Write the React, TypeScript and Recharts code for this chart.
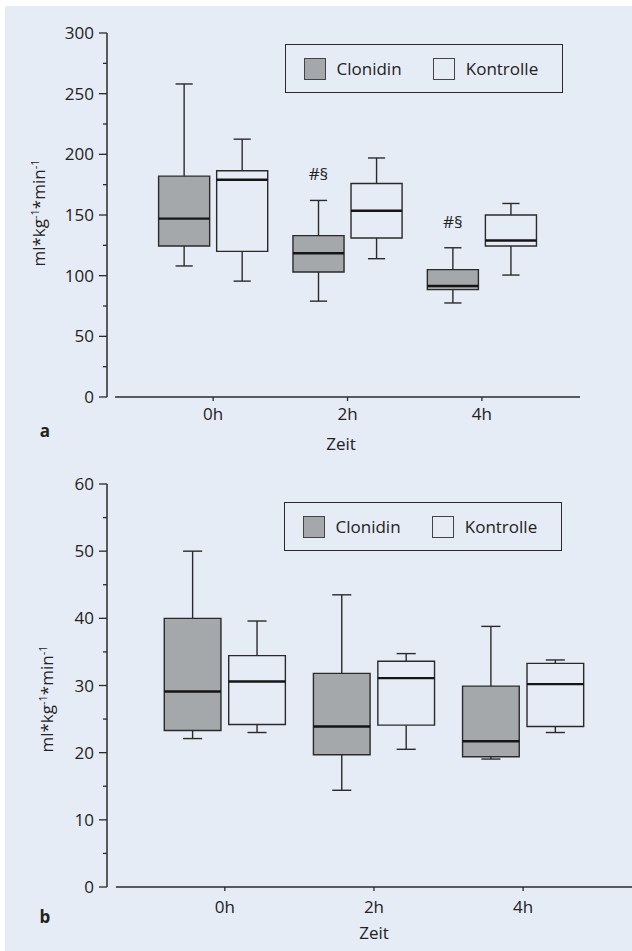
import React from "react";
import {
  ComposedChart,
  XAxis,
  YAxis,
  Scatter,
  ReferenceArea,
  ReferenceLine,
  ReferenceDot,
  Legend,
} from "recharts";

// time points and series
const TIMES = ["0h", "2h", "4h"];
const SERIES = ["Clonidin", "Kontrolle"];

// each entry: [min, q1, median, q3, max]
const A_CLONIDIN = [
  [108, 124.5, 147, 182, 258],
  [79, 103, 118.5, 133, 162],
  [77.5, 88.5, 91.5, 105, 123],
];
const A_KONTROLLE = [
  [95.5, 120, 179, 186.5, 212.5],
  [114, 131, 153.5, 176, 197],
  [100.5, 124.5, 129, 150, 159.5],
];
const A_SIGNIF = ["", "#§", "#§"];

const B_CLONIDIN = [
  [22.1, 23.3, 29.1, 40, 50],
  [14.4, 19.7, 23.9, 31.8, 43.5],
  [19.05, 19.4, 21.7, 29.9, 38.8],
];
const B_KONTROLLE = [
  [23, 24.2, 30.6, 34.45, 39.6],
  [20.5, 24.1, 31.1, 33.6, 34.75],
  [23, 23.9, 30.2, 33.3, 33.8],
];

const A_TICKS = [0, 25, 50, 75, 100, 125, 150, 175, 200, 225, 250, 275, 300];
const B_TICKS = [0, 5, 10, 15, 20, 25, 30, 35, 40, 45, 50, 55, 60];

const BG = "#e6ecf6";
const INK = "#2a2a2a";
const GRAY = "#a5a8ab";
const FILLS = [GRAY, "transparent"];
const FONT = "'Open Sans', sans-serif";

const X_DOMAIN: [number, number] = [-0.79, 2.73];
const AXIS_START = -0.73; // x axis line begins a little right of the y axis
const BOX_OFFSET = 0.216;
const BOX_HALF = 0.19;
const CAP_HALF = 0.064;

const makeYTick = (step: number) => (props: any) => {
  const { x, y, payload } = props;
  const major = payload.value % step === 0;
  return (
    <g>
      <line x1={x + (major ? 5 : 9)} x2={x + 13} y1={y} y2={y} stroke={INK} strokeWidth={1.3} />
      {major && (
        <text x={x} y={y} dy="0.36em" textAnchor="end" fontSize={17} fill="#222">
          {payload.value}
        </text>
      )}
    </g>
  );
};

const LegendBox = () => (
  <div
    style={{
      width: 278,
      height: 49,
      boxSizing: "border-box",
      border: `1.5px solid ${INK}`,
      display: "flex",
      alignItems: "center",
      paddingLeft: 17.5,
      fontFamily: FONT,
      fontSize: 17,
      color: "#222",
    }}
  >
    {SERIES.map((s, i) => (
      <div key={s} style={{ width: 132, display: "flex", alignItems: "center" }}>
        <span
          style={{
            width: 22,
            height: 22,
            boxSizing: "border-box",
            border: "1.3px solid #444",
            background: FILLS[i],
            marginRight: 11,
          }}
        />
        <span>{s}</span>
      </div>
    ))}
  </div>
);

const boxMarks = (stats: number[][], offset: number, fill: string, id: string) =>
  stats.flatMap(([lo, q1, med, q3, hi], i) => {
    const c = i + offset;
    return [
      <ReferenceLine key={`${id}-wl${i}`} segment={[{ x: c, y: lo }, { x: c, y: q1 }]} stroke={INK} strokeWidth={1.4} />,
      <ReferenceLine key={`${id}-wh${i}`} segment={[{ x: c, y: q3 }, { x: c, y: hi }]} stroke={INK} strokeWidth={1.4} />,
      <ReferenceLine key={`${id}-cl${i}`} segment={[{ x: c - CAP_HALF, y: lo }, { x: c + CAP_HALF, y: lo }]} stroke={INK} strokeWidth={1.4} />,
      <ReferenceLine key={`${id}-ch${i}`} segment={[{ x: c - CAP_HALF, y: hi }, { x: c + CAP_HALF, y: hi }]} stroke={INK} strokeWidth={1.4} />,
      <ReferenceArea
        key={`${id}-box${i}`}
        x1={c - BOX_HALF}
        x2={c + BOX_HALF}
        y1={q1}
        y2={q3}
        fill={fill}
        fillOpacity={1}
        stroke={INK}
        strokeWidth={1.4}
      />,
      <ReferenceLine
        key={`${id}-med${i}`}
        segment={[{ x: c - BOX_HALF, y: med }, { x: c + BOX_HALF, y: med }]}
        stroke="#151515"
        strokeWidth={2.4}
      />,
    ];
  });

type PanelProps = {
  width: number;
  height: number;
  margin: { top: number; right: number; bottom: number; left: number };
  yMax: number;
  yTicks: number[];
  labelStep: number;
  clonidin: number[][];
  kontrolle: number[][];
  signif?: string[];
  legendPos: { left: number; top: number };
  tickGap: number;
};

function BoxPanel({ width, height, margin, yMax, yTicks, labelStep, clonidin, kontrolle, signif, legendPos, tickGap }: PanelProps) {
  const groups = [clonidin, kontrolle];
  return (
    <ComposedChart width={width} height={height} margin={margin} style={{ fontFamily: FONT }}>
      <XAxis
        type="number"
        dataKey="x"
        domain={X_DOMAIN}
        allowDataOverflow
        ticks={[0, 1, 2]}
        tickFormatter={(v) => TIMES[v]}
        axisLine={false}
        tickLine={{ stroke: INK, strokeWidth: 1.3 }}
        tickSize={4}
        tickMargin={tickGap}
        tick={{ fontSize: 17, fill: "#222" }}
        height={30}
      />
      <YAxis
        type="number"
        dataKey="y"
        domain={[0, yMax]}
        ticks={yTicks}
        interval={0}
        width={100}
        axisLine={{ stroke: INK, strokeWidth: 1.5 }}
        tickLine={false}
        tickSize={8}
        tickMargin={5}
        tick={makeYTick(labelStep)}
      />
      <ReferenceLine
        segment={[{ x: AXIS_START, y: 0 }, { x: X_DOMAIN[1], y: 0 }]}
        stroke={INK}
        strokeWidth={1.5}
      />
      {groups.map((stats, g) =>
        boxMarks(stats, g === 0 ? -BOX_OFFSET : BOX_OFFSET, FILLS[g], SERIES[g])
      )}
      {signif &&
        signif.map((s, i) =>
          s ? (
            <ReferenceDot
              key={`sig${i}`}
              x={i - BOX_OFFSET}
              y={clonidin[i][4]}
              r={0}
              fill="none"
              stroke="none"
              label={{ value: s, position: "top", offset: 20, fontSize: 17, fill: "#222" }}
            />
          ) : null
        )}
      {groups.map((stats, g) => (
        <Scatter
          key={SERIES[g]}
          name={SERIES[g]}
          data={stats.map((d, i) => ({ x: i + (g === 0 ? -BOX_OFFSET : BOX_OFFSET), y: d[2] }))}
          fill={FILLS[g]}
          shape={() => <g />}
          isAnimationActive={false}
        />
      ))}
      <Legend
        layout="horizontal"
        verticalAlign="middle"
        align="center"
        content={() => <LegendBox />}
        wrapperStyle={{ left: legendPos.left, top: legendPos.top, width: 278, height: 49 }}
      />
    </ComposedChart>
  );
}

const textStyle: React.CSSProperties = {
  position: "absolute",
  whiteSpace: "nowrap",
  fontSize: 17,
  lineHeight: 1,
  color: "#222",
  transform: "translate(-50%, -50%)",
};

const YTitle = ({ left, top }: { left: number; top: number }) => (
  <div style={{ ...textStyle, left, top, transform: "translate(-50%, -50%) rotate(-90deg)" }}>
    ml*kg<sup style={{ fontSize: 11 }}>-1</sup>*min<sup style={{ fontSize: 11 }}>-1</sup>
  </div>
);

export default function App() {
  return (
    <div
      style={{
        position: "absolute",
        left: 0,
        top: 0,
        width: 632,
        height: 951,
        background: "#fff",
        fontFamily: FONT,
        overflow: "hidden",
      }}
    >
      <div style={{ position: "absolute", left: 5, top: 6, right: 0, bottom: 0, background: BG }} />

      <div style={{ position: "absolute", left: 0, top: 0 }}>
        <BoxPanel
          width={632}
          height={460}
          margin={{ top: 33, right: 52, bottom: 33, left: 7 }}
          yMax={300}
          yTicks={A_TICKS}
          labelStep={50}
          clonidin={A_CLONIDIN}
          kontrolle={A_KONTROLLE}
          signif={A_SIGNIF}
          legendPos={{ left: 285, top: 44 }}
          tickGap={7}
        />
      </div>
      <YTitle left={38} top={213} />
      <div style={{ ...textStyle, left: 341, top: 443 }}>Zeit</div>
      <div style={{ ...textStyle, left: 45, top: 430, fontWeight: 700 }}>a</div>

      <div style={{ position: "absolute", left: 0, top: 460 }}>
        <BoxPanel
          width={632}
          height={491}
          margin={{ top: 24, right: 0, bottom: 34, left: 7 }}
          yMax={60}
          yTicks={B_TICKS}
          labelStep={10}
          clonidin={B_CLONIDIN}
          kontrolle={B_KONTROLLE}
          legendPos={{ left: 284, top: 42 }}
          tickGap={10}
        />
      </div>
      <YTitle left={46} top={699} />
      <div style={{ ...textStyle, left: 374, top: 932 }}>Zeit</div>
      <div style={{ ...textStyle, left: 45, top: 916, fontWeight: 700 }}>b</div>
    </div>
  );
}
